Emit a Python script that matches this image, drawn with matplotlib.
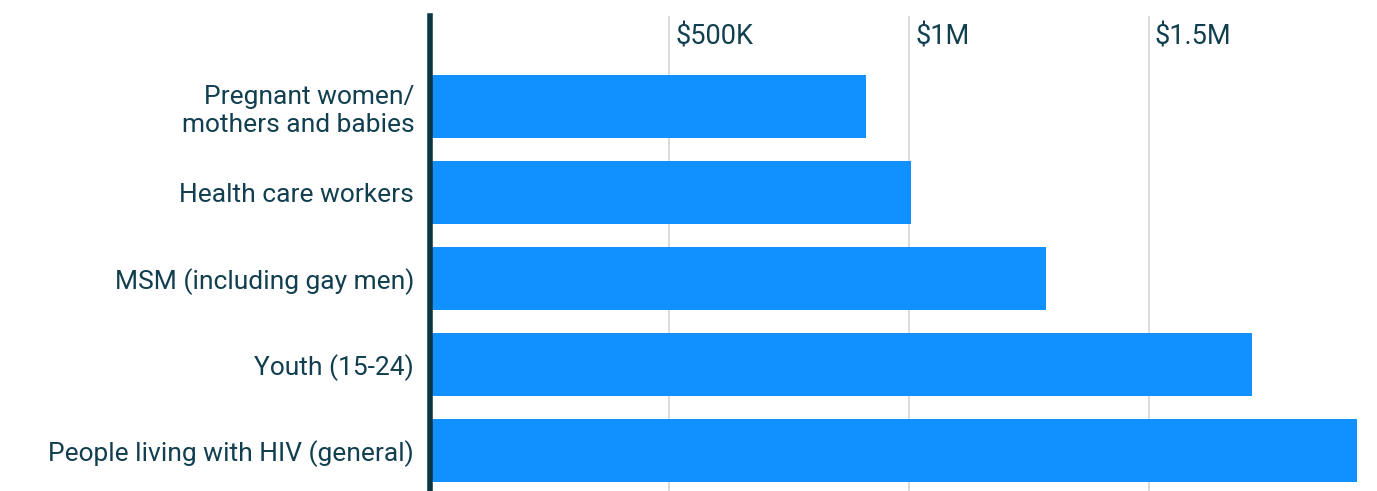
import matplotlib
matplotlib.use("Agg")
from matplotlib import pyplot as plt
from matplotlib.ticker import FixedLocator

# funding by population group (USD)
groups = ["Pregnant women/\nmothers and babies", "Health care workers",
          "MSM (including gay men)", "Youth (15-24)",
          "People living with HIV (general)"]
funding = [910000, 1005000, 1287000, 1715000, 1935000]
tick_vals = [500000, 1000000, 1500000]
tick_labels = ["$500K", "$1M", "$1.5M"]

txt = "#123f4f"
plt.rcParams['font.family'] = ['Roboto', 'DejaVu Sans']

fig = plt.figure(figsize=(13.77, 4.91), dpi=100)
ax = fig.add_axes([429.5 / 1377, 0, 1 - 429.5 / 1377, 1 - 16 / 491])

y = list(range(len(groups)))
ax.barh(y, funding, height=0.73, color="#1190ff", zorder=3)

ax.set_xlim(0, (1377 - 429.5) / 239.7 * 500000)
ax.set_ylim(4.47, -1.052)

ax.xaxis.set_major_locator(FixedLocator([0] + tick_vals))
ax.grid(axis="x", color="#d4d4d4", linewidth=1.2, zorder=0)
ax.tick_params(axis="x", length=0, labelbottom=False)
for v, lab in zip(tick_vals, tick_labels):
    ax.text(v + 13000, -0.81, lab, fontsize=19.5, color=txt, va="center", ha="left")

ax.set_yticks(y)
ax.set_yticklabels(groups, fontsize=19, color=txt, linespacing=1.2)
ax.tick_params(axis="y", length=0, pad=11)

for s in ["top", "right", "bottom"]:
    ax.spines[s].set_visible(False)
ax.spines["left"].set_color("#0b3642")
ax.spines["left"].set_linewidth(4)
ax.spines["left"].set_zorder(4)

fig.savefig("out.png", dpi=100)
